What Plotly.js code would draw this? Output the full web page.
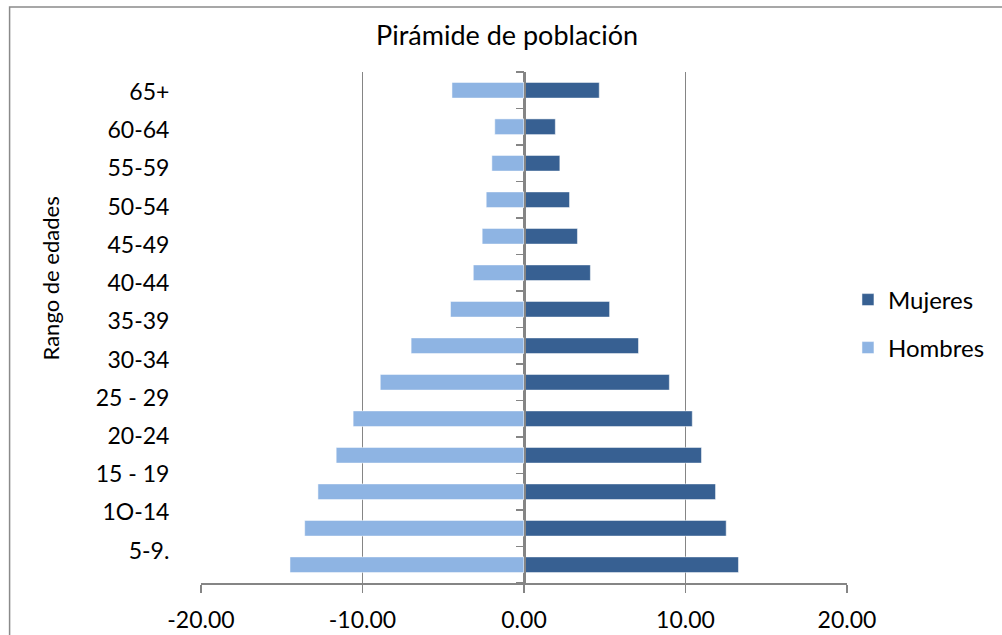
<!DOCTYPE html>
<html>
<head>
<meta charset="utf-8">
<script src="https://cdn.plot.ly/plotly-3.0.1.min.js"></script>
<style>
  html, body { margin: 0; padding: 0; background: #fff; }
  #chart { width: 1002px; height: 635px; }
</style>
</head>
<body>
<div id="chart"></div>
<script>
// ---- data (bottom to top) ----
const categories = ['0-4', '5-9.', '1O-14', '15 - 19', '20-24', '25 - 29', '30-34', '35-39', '40-44', '45-49', '50-54', '55-59', '60-64', '65+'];
const hombres = [-14.49, -13.58, -12.76, -11.63, -10.58, -8.90, -6.99, -4.55, -3.14, -2.59, -2.34, -1.99, -1.81, -4.46];
const mujeres = [13.28, 12.52, 11.86, 10.99, 10.42, 9.00, 7.09, 5.30, 4.11, 3.31, 2.82, 2.22, 1.94, 4.66];
const xTickVals = [-20, -10, 0, 10, 20];
const xTickText = ['-20.00', '-10.00', '0.00', '10.00', '20.00'];
const yTitle = 'Rango de edades';

const FONT = 'Lato, "Open Sans", sans-serif';
const GRID = '#858585';

const traces = [
  {
    type: 'bar', orientation: 'h', name: 'Hombres',
    x: hombres, y: categories, yaxis: 'y',
    marker: { color: '#8EB4E3', line: { color: 'rgba(255,255,255,0.5)', width: 1 } },
    legend: 'legend2', hoverinfo: 'x+y'
  },
  {
    type: 'bar', orientation: 'h', name: 'Mujeres',
    x: mujeres, y: categories, yaxis: 'y',
    marker: { color: '#376092', line: { color: 'rgba(255,255,255,0.5)', width: 1 } },
    legend: 'legend', hoverinfo: 'x+y'
  },
  {
    // carrier for the category label axis
    type: 'scatter', mode: 'markers',
    x: categories.map(() => 0), y: categories, yaxis: 'y2',
    marker: { opacity: 0 }, showlegend: false, hoverinfo: 'skip'
  }
];

const layout = {
  width: 1002, height: 635,
  margin: { l: 201, r: 153, t: 72, b: 52 },
  paper_bgcolor: '#fff', plot_bgcolor: '#fff',
  font: { family: FONT, color: '#000' },
  barmode: 'relative', bargap: 0.57,
  title: {
    text: 'Pirámide de población',
    font: { family: FONT, size: 27, color: '#000' },
    xref: 'paper', x: 0.4738, xanchor: 'center',
    yref: 'container', y: 0.944, yanchor: 'middle'
  },
  xaxis: {
    range: [-20, 20],
    tickmode: 'array', tickvals: xTickVals, ticktext: xTickText,
    showgrid: true, gridcolor: GRID, gridwidth: 1.5,
    zeroline: false,
    showline: true, linecolor: GRID, linewidth: 1.5,
    ticks: 'outside', ticklen: 8, tickcolor: GRID, tickwidth: 1.5,
    ticklabelstandoff: 8,
    tickfont: { family: FONT, size: 23, color: '#000' },
    fixedrange: true
  },
  yaxis: {
    type: 'category', categoryorder: 'array', categoryarray: categories,
    range: [-0.5, 13.5],
    anchor: 'free', position: 0.5,
    showline: true, linecolor: GRID, linewidth: 1.5,
    ticks: 'outside', tickson: 'boundaries', ticklen: 8, tickcolor: GRID, tickwidth: 1.5,
    showticklabels: false, showgrid: false, zeroline: false,
    fixedrange: true
  },
  yaxis2: {
    type: 'category', categoryorder: 'array', categoryarray: categories,
    overlaying: 'y', side: 'left', anchor: 'x',
    range: [0.155, 13.515],
    showline: false, showgrid: false, zeroline: false,
    ticks: 'outside', ticklen: 26, tickcolor: 'rgba(0,0,0,0)',
    tickfont: { family: FONT, size: 23, color: '#000' },
    fixedrange: true
  },
  annotations: [
    {
      text: yTitle, xref: 'paper', yref: 'paper',
      x: -0.2315, y: 0.5969, xanchor: 'center', yanchor: 'middle',
      textangle: -90, showarrow: false,
      font: { family: FONT, size: 22, color: '#000' }
    }
  ],
  showlegend: true,
  legend: {
    x: 1.0015, xanchor: 'left', y: 0.5538, yanchor: 'middle',
    font: { family: FONT, size: 24, color: '#000' },
    bgcolor: 'rgba(0,0,0,0)', borderwidth: 0
  },
  legend2: {
    x: 1.0015, xanchor: 'left', y: 0.4599, yanchor: 'middle',
    font: { family: FONT, size: 24, color: '#000' },
    bgcolor: 'rgba(0,0,0,0)', borderwidth: 0
  },
  shapes: [
    {
      type: 'rect', xref: 'paper', yref: 'paper',
      x0: -0.2963, x1: 1.3, y0: -0.2, y1: 1.1272,
      line: { color: '#8a8a8a', width: 1.5 }, fillcolor: 'rgba(0,0,0,0)', layer: 'below'
    }
  ]
};

Plotly.newPlot('chart', traces, layout, { displayModeBar: false, staticPlot: true });
</script>
</body>
</html>
